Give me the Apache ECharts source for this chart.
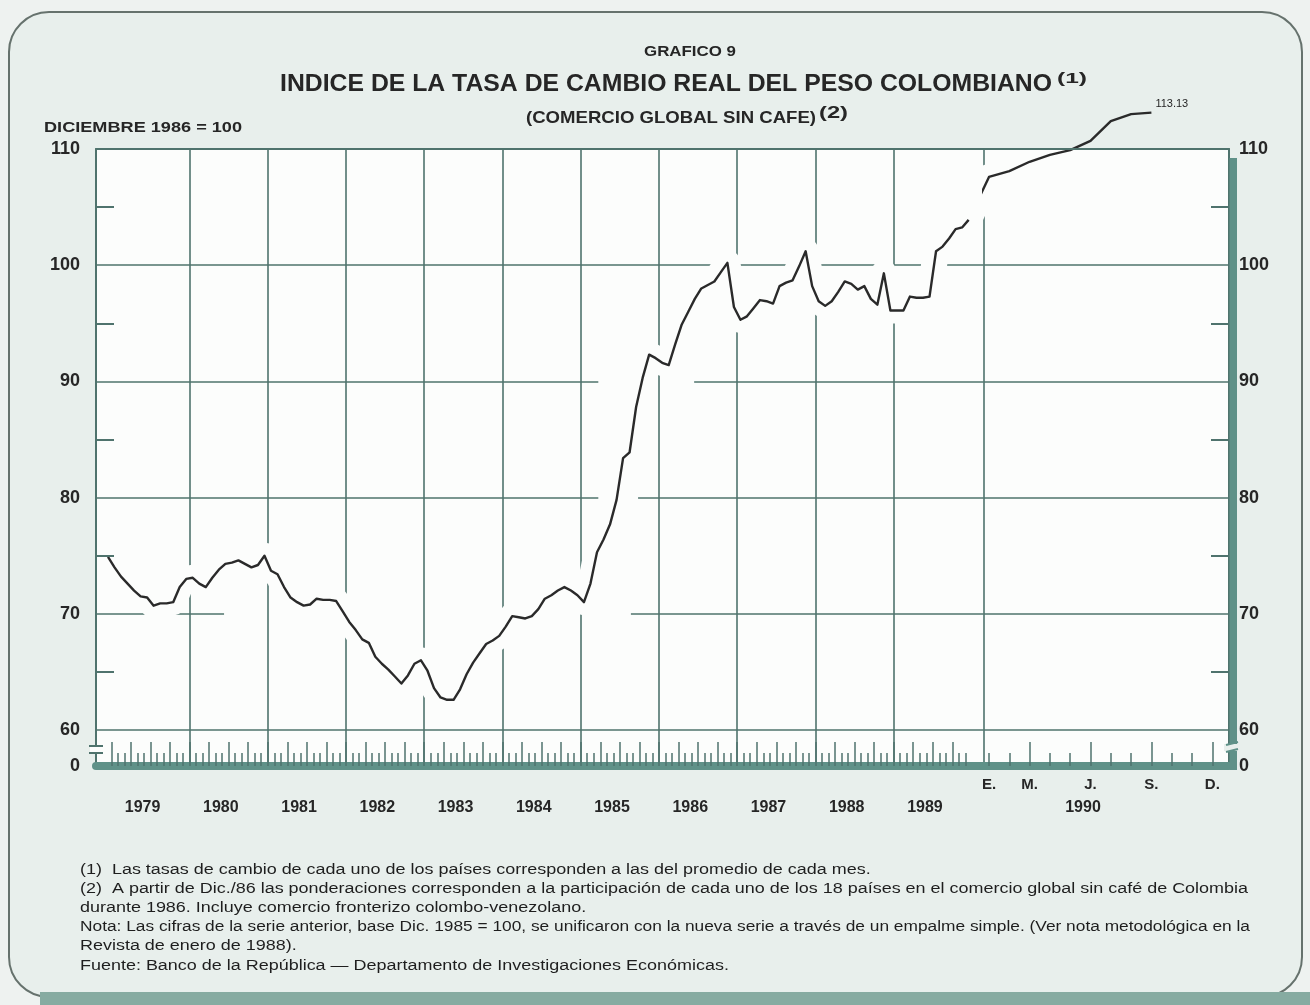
<!DOCTYPE html>
<html><head><meta charset="utf-8">
<script src="https://cdn.jsdelivr.net/npm/echarts@6/dist/echarts.min.js"></script>
<style>html,body{margin:0;padding:0;background:#eef2f0;}#c{width:1310px;height:1005px;}</style>
</head><body><div id="c"></div>
<script>
// ---------------- DATA ----------------
const years = ['1979','1980','1981','1982','1983','1984','1985','1986','1987','1988','1989'];
const year1990 = '1990';
const months1990 = ['E.','F.','M.','A.','M.','J.','J.','A.','S.','O.','N.','D.'];
const shownMonths1990 = [1, 3, 6, 9, 12];
const yTickLabels = [60, 70, 80, 90, 100, 110];
const yMinorTicks = [65, 75, 85, 95, 105];
// monthly index, Dec 1978 (index 0) ... Dec 1989 (index 132)
const index7889 = [
 74.9,74.0,73.2,72.6,72.0,71.5,71.4,70.7,70.9,70.9,71.0,72.3,
 73.0,73.1,72.6,72.3,73.1,73.8,74.3,74.4,74.6,74.3,74.0,74.2,
 75.0,73.7,73.4,72.3,71.4,71.0,70.7,70.8,71.3,71.2,71.2,71.1,
 70.2,69.3,68.6,67.8,67.5,66.3,65.7,65.2,64.6,64.0,64.7,65.7,
 66.0,65.1,63.6,62.8,62.6,62.6,63.5,64.8,65.8,66.6,67.4,67.7,
 68.1,68.9,69.8,69.7,69.6,69.8,70.4,71.3,71.6,72.0,72.3,72.0,
 71.6,71.0,72.6,75.3,76.4,77.7,79.8,83.4,83.9,87.8,90.3,92.3,
 92.0,91.6,91.4,93.2,94.9,96.0,97.1,98.0,98.3,98.6,99.4,100.2,
 96.4,95.3,95.6,96.3,97.0,96.9,96.7,98.2,98.5,98.7,99.9,101.2,
 98.2,96.9,96.5,96.9,97.7,98.6,98.4,97.9,98.2,97.1,96.6,99.3,
 96.1,96.1,96.1,97.3,97.2,97.2,97.3,101.2,101.6,102.3,103.1,103.25,
 103.9
];
// Jan ... Sep 1990
const index1990 = [107.6,108.1,108.9,109.5,109.9,110.7,112.4,113.0,113.13];

const footnotes = [
 '(1)  Las tasas de cambio de cada uno de los países corresponden a las del promedio de cada mes.',
 '(2)  A partir de Dic./86 las ponderaciones corresponden a la participación de cada uno de los 18 países en el comercio global sin café de Colombia',
 'durante 1986. Incluye comercio fronterizo colombo-venezolano.',
 'Nota: Las cifras de la serie anterior, base Dic. 1985 = 100, se unificaron con la nueva serie a través de un empalme simple. (Ver nota metodológica en la',
 'Revista de enero de 1988).',
 'Fuente: Banco de la República — Departamento de Investigaciones Económicas.'
];

// ---------------- LAYOUT ----------------
const FONT = '"Liberation Sans", Arial, Helvetica, sans-serif';
const GRID_C = '#4f736d', AXIS_C = '#4f736d', BAND_C = '#5f9188', TXT = '#262626';
const CARD = '#e8efec', PLOT = '#fcfdfc';
const TOP = 149, BOTTOM = 766, PX_PER_UNIT = 11.62;
const Y_MIN = 60 - (BOTTOM - 730) / PX_PER_UNIT, Y_MAX = 110;
const A_LEFT = 96, A_RIGHT = 983.7, A_ORIGIN = 108, A_STEP = 6.52;
const B_RIGHT = 1229, B_ORIGIN = 968.7, B_STEP = 20.3;
const xMinA = (A_LEFT - A_ORIGIN) / A_STEP, xMaxA = (A_RIGHT - A_ORIGIN) / A_STEP;
const xMinB = (A_RIGHT - B_ORIGIN) / B_STEP, xMaxB = (B_RIGHT - B_ORIGIN) / B_STEP;

const dataA = index7889.map((v, i) => [i, v]);
const dataB = [[0, index7889[index7889.length - 1]]].concat(index1990.map((v, i) => [i + 1, v]));

const monthBounds = index7889.slice(1).map((_, i) => i + 0.5);
const quarterBounds = monthBounds.filter((_, i) => i % 3 === 0);
const yearBounds = years.slice(1).map((_, i) => 12 * (i + 1) + 0.5);
const yearLabelPos = years.map((_, i) => 12 * i + 5.3);
const months1990Pos = months1990.map((_, i) => i + 1);
const quarters1990 = [3, 6, 9, 12];

const gl = { color: GRID_C, width: 1.6, type: 'solid' };
function hseg(y, x1, x2) { return [{ coord: [x1, y] }, { coord: [x2, y] }]; }
const markA = [
  ...yearBounds.map(v => ({ xAxis: v })),
  { yAxis: 60 }, { yAxis: 100 },
  hseg(70, xMinA, 17.8), hseg(70, 80.2, xMaxA),
  hseg(80, xMinA, 75.2), hseg(80, 81.3, xMaxA),
  hseg(90, xMinA, 75.2), hseg(90, 89.9, xMaxA)
];
const markB = [{ xAxis: xMinB }, { yAxis: 60 }, { yAxis: 70 }, { yAxis: 80 }, { yAxis: 90 }, { yAxis: 100 }];
function markLine(data) {
  return { silent: true, symbol: ['none', 'none'], z: 1, animation: false, label: { show: false },
    emphasis: { disabled: true }, lineStyle: gl, data };
}

function xAx(o) {
  return Object.assign({ type: 'value', z: 10, splitLine: { show: false }, axisLine: { show: false, onZero: false },
    axisTick: { show: false }, axisLabel: { show: false } }, o);
}
function yLabel(margin) {
  return { show: true, customValues: [Y_MIN].concat(yTickLabels), formatter: v => (v < 59 ? '0' : String(Math.round(v))),
    fontFamily: FONT, fontWeight: 'bold', fontSize: 18, color: TXT, margin };
}
function yAx(o) {
  return Object.assign({ type: 'value', z: 10, min: Y_MIN, max: Y_MAX, splitLine: { show: false },
    axisLine: { show: true, onZero: false, lineStyle: { color: AXIS_C, width: 2 } },
    axisTick: { show: true, inside: true, length: 18, customValues: yMinorTicks, lineStyle: { color: AXIS_C, width: 2 } } }, o);
}

// ---------------- TEXT HELPERS ----------------
const mctx = document.createElement('canvas').getContext('2d');
function measure(t, font) { mctx.font = font; return mctx.measureText(t).width; }
function txt(t, x, y, font, align, target, extra) {
  const sx = target ? target / measure(t, font) : 1;
  return Object.assign({ type: 'text', x, y, scaleX: sx, z: 20, silent: true,
    style: { text: t, font, fill: TXT, textAlign: align, align: align, textVerticalAlign: 'middle', verticalAlign: 'middle' } }, extra || {});
}
const fnFont = '14px ' + FONT;
const fnScale = 1168 / measure(footnotes[1], fnFont);
const fnY = [870, 889, 908, 927, 946, 966];
const fnEls = footnotes.map((t, i) => {
  const el = txt(t, 80, fnY[i], fnFont, 'left', i === 3 ? 1170 : null);
  if (i !== 3) el.scaleX = fnScale;
  el.style.fill = '#1e1e1e';
  return el;
});

function mask(x, y, w, h) {
  return { type: 'rect', z: 3, silent: true, shape: { x, y, width: w, height: h }, style: { fill: CARD } };
}

const graphics = [
  { type: 'rect', z: -10, silent: true, shape: { x: 9, y: 12, width: 1293, height: 985, r: 40 },
    style: { fill: CARD, stroke: '#66726d', lineWidth: 2 } },
  { type: 'rect', z: -9, silent: true, shape: { x: 40, y: 992, width: 1270, height: 13 }, style: { fill: '#86aba1' } },
  // masks hiding the white halo where it leaks outside the plot frame
  mask(60, 60, 1190, 88),
  mask(70, 148, 25, 620),
  // thick shadow bar of right axis
  { type: 'rect', z: 11, silent: true, shape: { x: 1229.5, y: 158, width: 7.5, height: 612 }, style: { fill: BAND_C } },
  // broken-axis marks
  { type: 'rect', z: 12, silent: true, shape: { x: 90, y: 747, width: 13, height: 6 }, style: { fill: PLOT } },
  { type: 'line', z: 12, silent: true, shape: { x1: 89, y1: 746, x2: 103, y2: 746 }, style: { stroke: AXIS_C, lineWidth: 2 } },
  { type: 'line', z: 12, silent: true, shape: { x1: 89, y1: 753, x2: 103, y2: 753 }, style: { stroke: AXIS_C, lineWidth: 2 } },
  { type: 'rect', z: 12, silent: true, shape: { x: 1224, y: 744, width: 16, height: 7 }, style: { fill: CARD } },
  { type: 'line', z: 12, silent: true, shape: { x1: 1226, y1: 745, x2: 1238, y2: 742 }, style: { stroke: BAND_C, lineWidth: 2 } },
  { type: 'line', z: 12, silent: true, shape: { x1: 1226, y1: 752, x2: 1238, y2: 749 }, style: { stroke: BAND_C, lineWidth: 2 } },
  txt('GRAFICO 9', 690, 52, 'bold 15px ' + FONT, 'center', 92),
  txt('INDICE DE LA TASA DE CAMBIO REAL DEL PESO COLOMBIANO', 666, 85, 'bold 23px ' + FONT, 'center', 772),
  txt('(1)', 1057, 79, 'bold 14px ' + FONT, 'left', 30),
  txt('(COMERCIO GLOBAL SIN CAFE)', 526, 118, 'bold 17px ' + FONT, 'left', 290),
  txt('(2)', 819, 114, 'bold 16px ' + FONT, 'left', 29),
  txt('DICIEMBRE 1986 = 100', 44, 128, 'bold 14px ' + FONT, 'left', 198)
].concat(fnEls);

// ---------------- CHART ----------------
const chart = echarts.init(document.getElementById('c'), null, { renderer: 'canvas' });
const lblBase = { show: true, fontFamily: FONT, fontWeight: 'bold', color: TXT };
chart.setOption({
  animation: false,
  backgroundColor: 'transparent',
  graphic: { elements: graphics },
  grid: [
    { left: A_LEFT, top: TOP, width: A_RIGHT - A_LEFT, height: BOTTOM - TOP, show: true, backgroundColor: PLOT, borderWidth: 0 },
    { left: A_RIGHT, top: TOP, width: B_RIGHT - A_RIGHT, height: BOTTOM - TOP, show: true, backgroundColor: PLOT, borderWidth: 0 }
  ],
  xAxis: [
    xAx({ gridIndex: 0, position: 'bottom', min: xMinA, max: xMaxA,
      axisLine: { show: true, onZero: false, lineStyle: { color: BAND_C, width: 8 } },
      axisTick: { show: true, inside: true, length: 13, customValues: monthBounds, lineStyle: { color: AXIS_C, width: 1.5 } },
      axisLabel: Object.assign({}, lblBase, { customValues: yearLabelPos, margin: 34, fontSize: 16,
        formatter: v => years[Math.round((v - 5.3) / 12)] }) }),
    xAx({ gridIndex: 0, position: 'bottom', min: xMinA, max: xMaxA,
      axisTick: { show: true, inside: true, length: 24, customValues: quarterBounds, lineStyle: { color: AXIS_C, width: 1.5 } } }),
    xAx({ gridIndex: 0, position: 'top', min: xMinA, max: xMaxA,
      axisLine: { show: true, onZero: false, lineStyle: { color: AXIS_C, width: 2 } } }),
    xAx({ gridIndex: 1, position: 'bottom', min: xMinB, max: xMaxB,
      axisLine: { show: true, onZero: false, lineStyle: { color: BAND_C, width: 8 } },
      axisTick: { show: true, inside: true, length: 13, customValues: months1990Pos, lineStyle: { color: AXIS_C, width: 1.5 } },
      axisLabel: Object.assign({}, lblBase, { customValues: shownMonths1990, margin: 11, fontSize: 15,
        formatter: v => months1990[Math.round(v) - 1] }) }),
    xAx({ gridIndex: 1, position: 'bottom', min: xMinB, max: xMaxB,
      axisTick: { show: true, inside: true, length: 24, customValues: quarters1990, lineStyle: { color: AXIS_C, width: 1.5 } },
      axisLabel: Object.assign({}, lblBase, { customValues: [5.63], margin: 34, fontSize: 16, formatter: () => year1990 }) }),
    xAx({ gridIndex: 1, position: 'top', min: xMinB, max: xMaxB,
      axisLine: { show: true, onZero: false, lineStyle: { color: AXIS_C, width: 2 } } })
  ],
  yAxis: [
    yAx({ gridIndex: 0, position: 'left', axisLabel: yLabel(16) }),
    yAx({ gridIndex: 1, position: 'right', axisLabel: yLabel(10) })
  ],
  series: [
    { type: 'line', name: 'haloA', xAxisIndex: 0, yAxisIndex: 0, data: dataA, z: 2, clip: true, silent: true,
      showSymbol: false, symbol: 'none', lineStyle: { color: PLOT, width: 26, join: 'round', cap: 'round' },
      emphasis: { disabled: true }, markLine: markLine(markA) },
    { type: 'line', name: 'haloB', xAxisIndex: 3, yAxisIndex: 1, data: dataB, z: 2, clip: true, silent: true,
      showSymbol: false, symbol: 'none', lineStyle: { color: PLOT, width: 26, join: 'round', cap: 'round' },
      emphasis: { disabled: true }, markLine: markLine(markB) },
    { type: 'line', name: 'indiceA', xAxisIndex: 0, yAxisIndex: 0, data: dataA, z: 4, clip: false, silent: true,
      showSymbol: false, symbol: 'none', lineStyle: { color: '#2a2a2a', width: 2.4, join: 'round' }, emphasis: { disabled: true } },
    { type: 'line', name: 'indiceB', xAxisIndex: 3, yAxisIndex: 1, data: dataB, z: 4, clip: false, silent: true,
      showSymbol: false, symbol: 'none', lineStyle: { color: '#2a2a2a', width: 2.4, join: 'round' }, emphasis: { disabled: true },
      endLabel: { show: true, formatter: p => p.value[1].toFixed(2), fontFamily: FONT, fontSize: 11, color: TXT, distance: 4, offset: [0, -9] } }
  ]
});
</script>
</body></html>
